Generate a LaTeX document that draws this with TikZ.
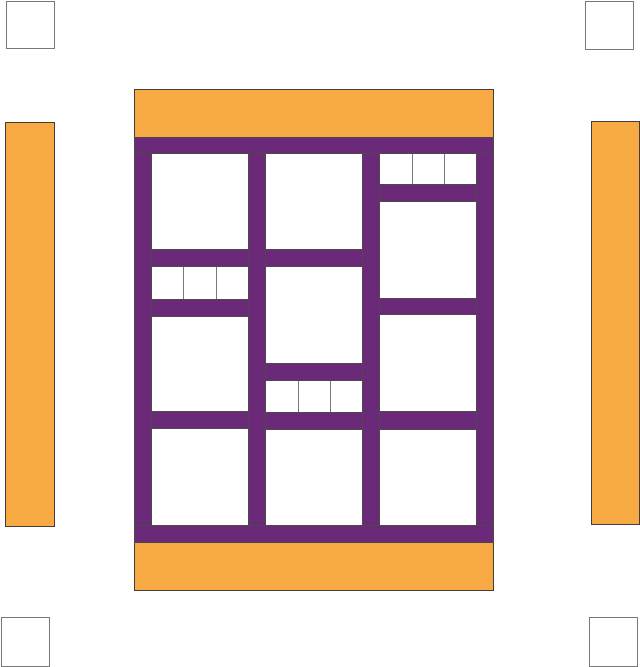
\documentclass[tikz,border=0pt]{standalone}
\definecolor{orng}{RGB}{247,169,68}
\definecolor{purp}{RGB}{107,41,122}
\definecolor{edge}{RGB}{70,60,60}
\definecolor{gedge}{RGB}{120,120,120}
\begin{document}
\begin{tikzpicture}[x=1pt,y=-1pt,
  sq/.style={draw=gedge,fill=white,line width=1pt},
  ob/.style={draw=edge,fill=orng,line width=0.9pt},
  fr/.style={draw=edge!80!gedge,fill=purp,line width=0.7pt},
  cell/.style={draw=gedge,fill=white,line width=0.9pt}]
\useasboundingbox[fill=white] (0,0) rectangle (640,667);
% corner squares
\draw[sq] (6,1) rectangle (54,48);
\draw[sq] (585,1) rectangle (633,49);
\draw[sq] (1,617) rectangle (49,666);
\draw[sq] (589,617) rectangle (637,666);
% side orange bars
\draw[ob] (5,122) rectangle (54,526);
\draw[ob] (591,121) rectangle (639,524);
% top and bottom orange
\draw[ob] (134,89) rectangle (493,137);
\draw[ob] (134,542) rectangle (493,590);
% cells
\draw[cell] (151,153) rectangle (248,249);
\draw[cell] (151,266) rectangle (183,299);
\draw[cell] (183,266) rectangle (216,299);
\draw[cell] (216,266) rectangle (248,299);
\draw[cell] (151,316) rectangle (248,411);
\draw[cell] (151,428) rectangle (248,525);
\draw[cell] (265,153) rectangle (362,249);
\draw[cell] (265,266) rectangle (362,363);
\draw[cell] (265,380) rectangle (298,412);
\draw[cell] (298,380) rectangle (330,412);
\draw[cell] (330,380) rectangle (362,412);
\draw[cell] (265,429) rectangle (362,525);
\draw[cell] (379,153) rectangle (412,184);
\draw[cell] (412,153) rectangle (444,184);
\draw[cell] (444,153) rectangle (476,184);
\draw[cell] (379,201) rectangle (476,298);
\draw[cell] (379,314) rectangle (476,411);
\draw[cell] (379,429) rectangle (476,525);
% purple frame members
\draw[fr] (134,137) rectangle (493,153);
\draw[fr] (134,525) rectangle (493,542);
\draw[fr] (134,153) rectangle (151,525);
\draw[fr] (248,153) rectangle (265,525);
\draw[fr] (362,153) rectangle (379,525);
\draw[fr] (476,153) rectangle (493,525);
\draw[fr] (151,249) rectangle (248,266);
\draw[fr] (151,299) rectangle (248,316);
\draw[fr] (151,411) rectangle (248,428);
\draw[fr] (265,249) rectangle (362,266);
\draw[fr] (265,363) rectangle (362,380);
\draw[fr] (265,412) rectangle (362,429);
\draw[fr] (379,184) rectangle (476,201);
\draw[fr] (379,298) rectangle (476,314);
\draw[fr] (379,411) rectangle (476,429);
\end{tikzpicture}
\end{document}
